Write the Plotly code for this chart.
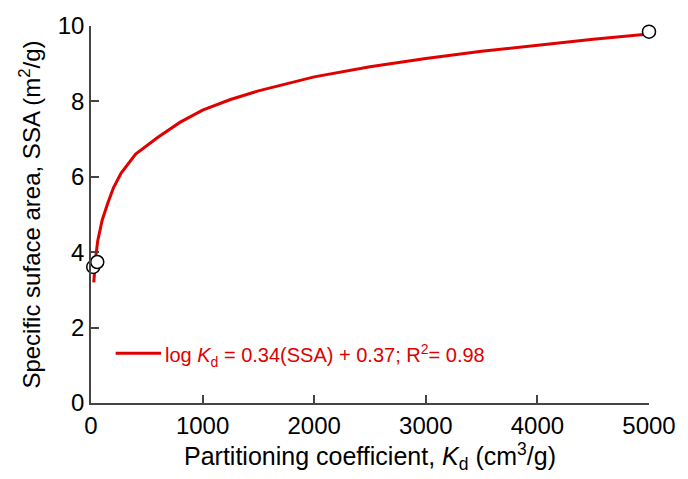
import plotly.graph_objects as go

# Fitted curve
kd_fit = [25, 40, 60, 100, 150, 200, 270, 400, 600, 800, 1000, 1250, 1500,
          2000, 2500, 3000, 3500, 4000, 4500, 5000]
ssa_fit = [3.2, 3.8, 4.3, 4.85, 5.3, 5.7, 6.1, 6.6, 7.05, 7.45, 7.77, 8.05,
           8.28, 8.65, 8.92, 9.14, 9.33, 9.5, 9.65, 9.79]

# Measured points
kd_obs = [20, 56, 5000]
ssa_obs = [3.61, 3.74, 9.85]

legend_text = "log <i>K</i><sub>d</sub> = 0.34(SSA) + 0.37; R<sup>2</sup>= 0.98"
x_title = "Partitioning coefficient, <i>K</i><sub>d</sub> (cm<sup>3</sup>/g)"
y_title = "Specific suface area, SSA (m<sup>2</sup>/g)"

RED = "#e00000"
FONT = "Arial, Liberation Sans, sans-serif"

fig = go.Figure()
fig.add_trace(go.Scatter(x=kd_fit, y=ssa_fit, mode="lines",
                         line=dict(color=RED, width=3), showlegend=False,
                         cliponaxis=False))
fig.add_trace(go.Scatter(x=kd_obs, y=ssa_obs, mode="markers",
                         marker=dict(size=13, color="white",
                                     line=dict(color="black", width=1.5)),
                         showlegend=False, cliponaxis=False))

# legend key drawn manually
fig.add_shape(type="line", xref="paper", yref="paper",
              x0=(116 - 91) / 566, x1=(162 - 91) / 566,
              y0=(403 - 353) / 378, y1=(403 - 353) / 378,
              line=dict(color=RED, width=3))
fig.add_annotation(xref="paper", yref="paper", x=(164 - 91) / 566,
                   y=(403 - 355) / 378, xanchor="left", yanchor="middle",
                   text=legend_text, showarrow=False,
                   font=dict(family=FONT, size=20, color=RED))

axis_common = dict(showline=True, linecolor="#444", linewidth=1.5,
                   ticks="inside", ticklen=8, tickcolor="#444", tickwidth=1.5,
                   showgrid=False, zeroline=False,
                   tickfont=dict(family=FONT, size=24, color="black"))

fig.update_xaxes(range=[0, 5000], tickvals=[0, 1000, 2000, 3000, 4000, 5000],
                 title=dict(text=x_title, font=dict(family=FONT, size=25, color="black"),
                            standoff=6),
                 **axis_common)
fig.update_yaxes(range=[0, 10], tickvals=[0, 2, 4, 6, 8, 10],
                 title=dict(text=y_title, font=dict(family=FONT, size=24, color="black"),
                            standoff=10),
                 **axis_common)

fig.update_layout(width=688, height=479, plot_bgcolor="white", paper_bgcolor="white",
                  margin=dict(l=91, r=31, t=25, b=76),
                  font=dict(family=FONT))

fig.write_html("out.html")
